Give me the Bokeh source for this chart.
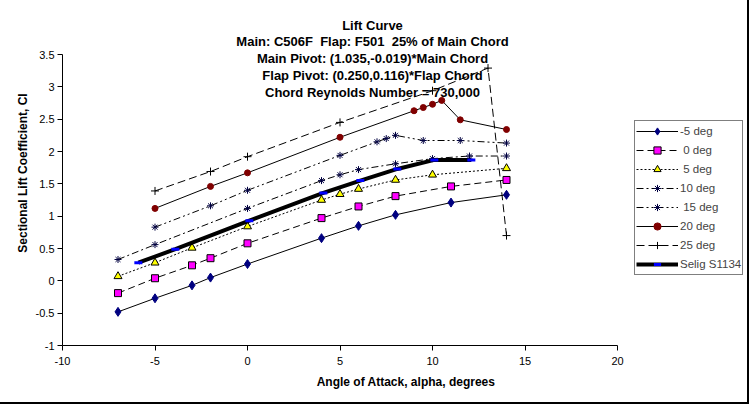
from bokeh.plotting import figure
from bokeh.models import Label, Legend, LegendItem, FixedTicker
from bokeh.embed import file_html
from bokeh.resources import INLINE

# ---------------- data ----------------
NB = "\u00a0"  # keeps the double spaces of the original title visible
title_lines = [
    "Lift Curve",
    f"Main: C506F{NB} Flap: F501{NB} 25% of Main Chord",
    "Main Pivot: (1.035,-0.019)*Main Chord",
    "Flap Pivot: (0.250,0.116)*Flap Chord",
    "Chord Reynolds Number = 730,000",
]
x_title = "Angle of Attack, alpha, degrees"
y_title = "Sectional Lift Coefficient, Cl"

x_ticks = [-10, -5, 0, 5, 10, 15, 20]
x_tick_labels = ["-10", "-5", "0", "5", "10", "15", "20"]
y_ticks = [-1, -0.5, 0, 0.5, 1, 1.5, 2, 2.5, 3, 3.5]
y_tick_labels = ["-1", "-0.5", "0", "0.5", "1", "1.5", "2", "2.5", "3", "3.5"]

series_names = ["-5 deg", f"{NB}0 deg", f"{NB}5 deg", "10 deg", f"{NB}15 deg",
                "20 deg", "25 deg", "Selig S1134"]

m5_x = [-7, -5, -3, -2, 0, 4, 6, 8, 11, 14]
m5_y = [-0.48, -0.27, -0.07, 0.05, 0.26, 0.66, 0.85, 1.02, 1.21, 1.33]

d0_x = [-7, -5, -3, -2, 0, 4, 6, 8, 11, 14]
d0_y = [-0.19, 0.04, 0.24, 0.35, 0.58, 0.97, 1.15, 1.31, 1.46, 1.56]

d5_x = [-7, -5, -3, 0, 4, 5, 6, 8, 10, 14]
d5_y = [0.07, 0.28, 0.51, 0.84, 1.25, 1.34, 1.42, 1.56, 1.64, 1.74]

d10_x = [-7, -5, 0, 4, 5, 6, 8, 10, 12, 14]
d10_y = [0.33, 0.56, 1.12, 1.55, 1.64, 1.72, 1.81, 1.89, 1.93, 1.93]

d15_x = [-5, -2, 0, 5, 7, 7.5, 8, 9.5, 11.5, 14]
d15_y = [0.83, 1.16, 1.40, 1.94, 2.15, 2.20, 2.25, 2.17, 2.17, 2.13]

d20_x = [-5, -2, 0, 5, 9, 9.5, 10, 10.5, 11.5, 14]
d20_y = [1.12, 1.46, 1.67, 2.22, 2.63, 2.68, 2.73, 2.79, 2.49, 2.34]

d25_x = [-5, -2, 0, 5, 10, 13, 14]
d25_y = [1.39, 1.69, 1.92, 2.45, 2.94, 3.29, 0.70]

selig_x = [-5.9, -3.9, 0.1, 4.1, 6.1, 8.1, 10.1, 12.1]
selig_y = [0.28, 0.49, 0.93, 1.36, 1.55, 1.73, 1.87, 1.87]

# ---------------- layout ----------------
FONT = "Liberation Sans"
W, H = 749, 404
X0, X1, Y0, Y1 = -10, 20, -1, 3.5
AX_L, AX_R = 62, 617      # pixel of x = X0 and x = X1
AX_T, AX_B = 54, 345      # pixel of y = Y1 and y = Y0
XS = (X1 - X0) / (AX_R - AX_L)
YS = (Y1 - Y0) / (AX_B - AX_T)


def px_to_x(px):
    return X0 + (px - AX_L) * XS


def py_to_y(py):
    return Y0 + (AX_B - py) * YS


# frame spans the whole canvas except the axis panels; axis lines are bounded
p = figure(width=W, height=H, output_backend="svg", toolbar_location=None,
           x_range=(X0, px_to_x(W)), y_range=(Y0, py_to_y(0)),
           min_border_left=AX_L, min_border_right=0,
           min_border_top=0, min_border_bottom=H - AX_B)
p.outline_line_color = None
p.grid.visible = False
p.background_fill_color = "white"
p.border_fill_color = "white"
p.styles = {"border-right": "2px solid black", "border-bottom": "2px solid black"}

p.xaxis.bounds = (X0, X1)
p.yaxis.bounds = (Y0, Y1)
p.xaxis.ticker = FixedTicker(ticks=x_ticks)
p.yaxis.ticker = FixedTicker(ticks=y_ticks)
p.xaxis.major_label_overrides = dict(zip(x_ticks, x_tick_labels))
p.yaxis.major_label_overrides = dict(zip(y_ticks, y_tick_labels))
p.xaxis.axis_label = x_title
p.yaxis.axis_label = y_title
for ax in (p.xaxis, p.yaxis):
    ax.axis_line_color = "black"
    ax.major_tick_line_color = "black"
    ax.major_tick_out = 5
    ax.major_tick_in = 0
    ax.minor_tick_line_color = None
    ax.major_label_text_font = FONT
    ax.major_label_text_font_size = "11px"
    ax.major_label_text_color = "black"
    ax.axis_label_text_font = FONT
    ax.axis_label_text_font_size = "12px"
    ax.axis_label_text_font_style = "bold"
    ax.axis_label_text_color = "black"
p.xaxis.major_label_standoff = 6
p.xaxis.axis_label_standoff = 7
p.yaxis.major_label_standoff = 3
p.yaxis.axis_label_standoff = 3

styles = [
    # x, y, dash, line width, marker, size, fill, line color
    (m5_x, m5_y, "solid", 1, "diamond", 9, "#000080", "#000080"),
    (d0_x, d0_y, "7 4", 1, "square", 7, "#FF00FF", "black"),
    (d5_x, d5_y, "2 2", 1, "triangle", 8, "#FFFF00", "black"),
    (d10_x, d10_y, "7 3 2 3", 1, "asterisk", 7, None, "#000040"),
    (d15_x, d15_y, "7 3 2 3 2 3", 1, "asterisk", 7, None, "#000040"),
    (d20_x, d20_y, "solid", 1, "circle", 6, "#800000", "#800000"),
    (d25_x, d25_y, "8 4", 1, "cross", 8, None, "black"),
    (selig_x, selig_y, "solid", 4, "dash", 8, None, "#0000FF"),
]

items = []
for name, (xs, ys, dash, lw, mk, sz, fc, lc) in zip(series_names, styles):
    rl = p.line(xs, ys, line_color="black", line_width=lw, line_dash=dash)
    rs = p.scatter(xs, ys, marker=mk, size=sz, fill_color=fc, line_color=lc,
                   line_width=3 if mk == "dash" else 1)
    items.append(LegendItem(label=name, renderers=[rl, rs]))

# legend box: left edge at pixel 634, bottom edge at pixel 275
legend = Legend(items=items, location=(634 - AX_L, AX_B - 275),
                label_text_font=FONT, label_text_font_size="11.5px",
                glyph_width=42, glyph_height=18, label_height=18,
                label_width=61,
                spacing=1, padding=1, margin=0, label_standoff=2,
                border_line_color="black", border_line_width=1,
                background_fill_color="white", background_fill_alpha=1)
p.add_layout(legend, "center")

title_cx = 372
title_cy = [24.7, 41.4, 58.1, 74.8, 91.5]
for txt, cy in zip(title_lines, title_cy):
    p.add_layout(Label(x=px_to_x(title_cx), y=py_to_y(cy), text=txt,
                       text_align="center", text_baseline="middle",
                       text_font=FONT, text_font_size="13px",
                       text_font_style="bold", text_color="black"))

open("out.html", "w").write(file_html(p, INLINE))
